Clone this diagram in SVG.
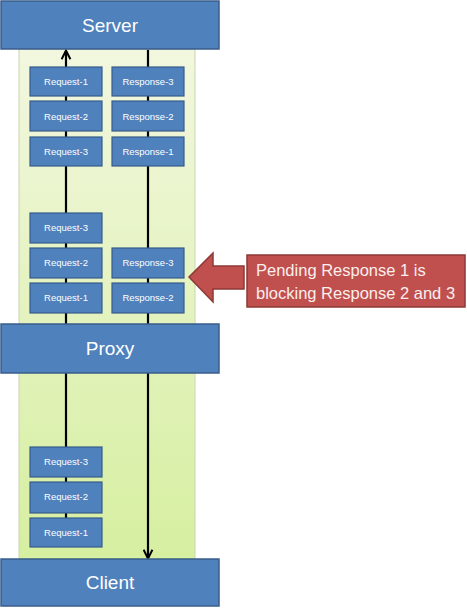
<svg xmlns="http://www.w3.org/2000/svg" width="467" height="608" viewBox="0 0 467 608">
<defs>
<linearGradient id="g" x1="0" y1="0" x2="0" y2="1">
<stop offset="0" stop-color="#f2f7df"/>
<stop offset="1" stop-color="#d6efa0"/>
</linearGradient>
<marker id="ah" viewBox="0 0 10 10" refX="8.5" refY="5" markerWidth="5" markerHeight="5" orient="auto" markerUnits="strokeWidth">
<path d="M1,1 L9,5 L1,9" fill="none" stroke="#000" stroke-width="1.8"/>
</marker>
<style>
.big{fill:#4f81bd;stroke:#385d8a;stroke-width:1.5}
.sm{fill:#4f81bd;stroke:#385d8a;stroke-width:1.2}
.bt{font-family:"Liberation Sans",Arial,sans-serif;font-size:19px;fill:#fff;text-anchor:middle}
.st{font-family:"Liberation Sans",Arial,sans-serif;font-size:9.5px;fill:#fff;text-anchor:middle}
.c{stroke:#000;stroke-width:2.2;fill:none}
</style>
</defs>
<rect width="467" height="608" fill="#fff"/>
<rect x="19" y="49" width="176" height="511" fill="url(#g)" stroke="#c9d6b0" stroke-width="1"/>
<g id="connectors">
<line class="c" x1="66" y1="324" x2="66" y2="51" marker-end="url(#ah)"/>
<line class="c" x1="148" y1="50" x2="148" y2="324"/>
<line class="c" x1="66" y1="373" x2="66" y2="518"/>
<line class="c" x1="148" y1="373" x2="148" y2="558" marker-end="url(#ah)"/>
</g>
<g id="server"><rect class="big" x="1" y="1" width="218" height="48"/><text class="bt" x="110" y="32">Server</text></g>
<g id="proxy"><rect class="big" x="1" y="324" width="218" height="49"/><text class="bt" x="110" y="355">Proxy</text></g>
<g id="client"><rect class="big" x="1" y="559" width="218" height="47"/><text class="bt" x="110" y="589">Client</text></g>
<g id="top-req1"><rect class="sm" x="30" y="67" width="72" height="29"/><text class="st" x="66" y="85">Request-1</text></g>
<g id="top-req2"><rect class="sm" x="30" y="101" width="72" height="30"/><text class="st" x="66" y="120">Request-2</text></g>
<g id="top-req3"><rect class="sm" x="30" y="137" width="72" height="29"/><text class="st" x="66" y="155">Request-3</text></g>
<g id="top-resp3"><rect class="sm" x="112" y="67" width="72" height="29"/><text class="st" x="148" y="85">Response-3</text></g>
<g id="top-resp2"><rect class="sm" x="112" y="101" width="72" height="30"/><text class="st" x="148" y="120">Response-2</text></g>
<g id="top-resp1"><rect class="sm" x="112" y="137" width="72" height="29"/><text class="st" x="148" y="155">Response-1</text></g>
<g id="mid-req3"><rect class="sm" x="30" y="213" width="72" height="30"/><text class="st" x="66" y="231">Request-3</text></g>
<g id="mid-req2"><rect class="sm" x="30" y="248" width="72" height="30"/><text class="st" x="66" y="266">Request-2</text></g>
<g id="mid-req1"><rect class="sm" x="30" y="283" width="72" height="30"/><text class="st" x="66" y="301">Request-1</text></g>
<g id="mid-resp3"><rect class="sm" x="112" y="248" width="72" height="30"/><text class="st" x="148" y="266">Response-3</text></g>
<g id="mid-resp2"><rect class="sm" x="112" y="283" width="72" height="30"/><text class="st" x="148" y="301">Response-2</text></g>
<g id="bot-req3"><rect class="sm" x="30" y="447" width="72" height="30"/><text class="st" x="66" y="465">Request-3</text></g>
<g id="bot-req2"><rect class="sm" x="30" y="482" width="72" height="31"/><text class="st" x="66" y="500">Request-2</text></g>
<g id="bot-req1"><rect class="sm" x="30" y="518" width="72" height="29"/><text class="st" x="66" y="536">Request-1</text></g>
<g id="callout-arrow"><path d="M189,277 L213,253 L213,266 L244,266 L244,289 L213,289 L213,302 Z" fill="#c0504d" stroke="#8c3836" stroke-width="1.5"/></g>
<g id="callout"><rect x="247" y="255" width="218" height="52" fill="#c0504d" stroke="#8c3836" stroke-width="1.5"/>
<text font-family="'Liberation Sans',Arial,sans-serif" font-size="16.5" fill="#fbeeee" x="256" y="276">Pending Response 1 is</text>
<text font-family="'Liberation Sans',Arial,sans-serif" font-size="16.5" fill="#fbeeee" x="256" y="299">blocking Response 2 and 3</text></g>
</svg>
